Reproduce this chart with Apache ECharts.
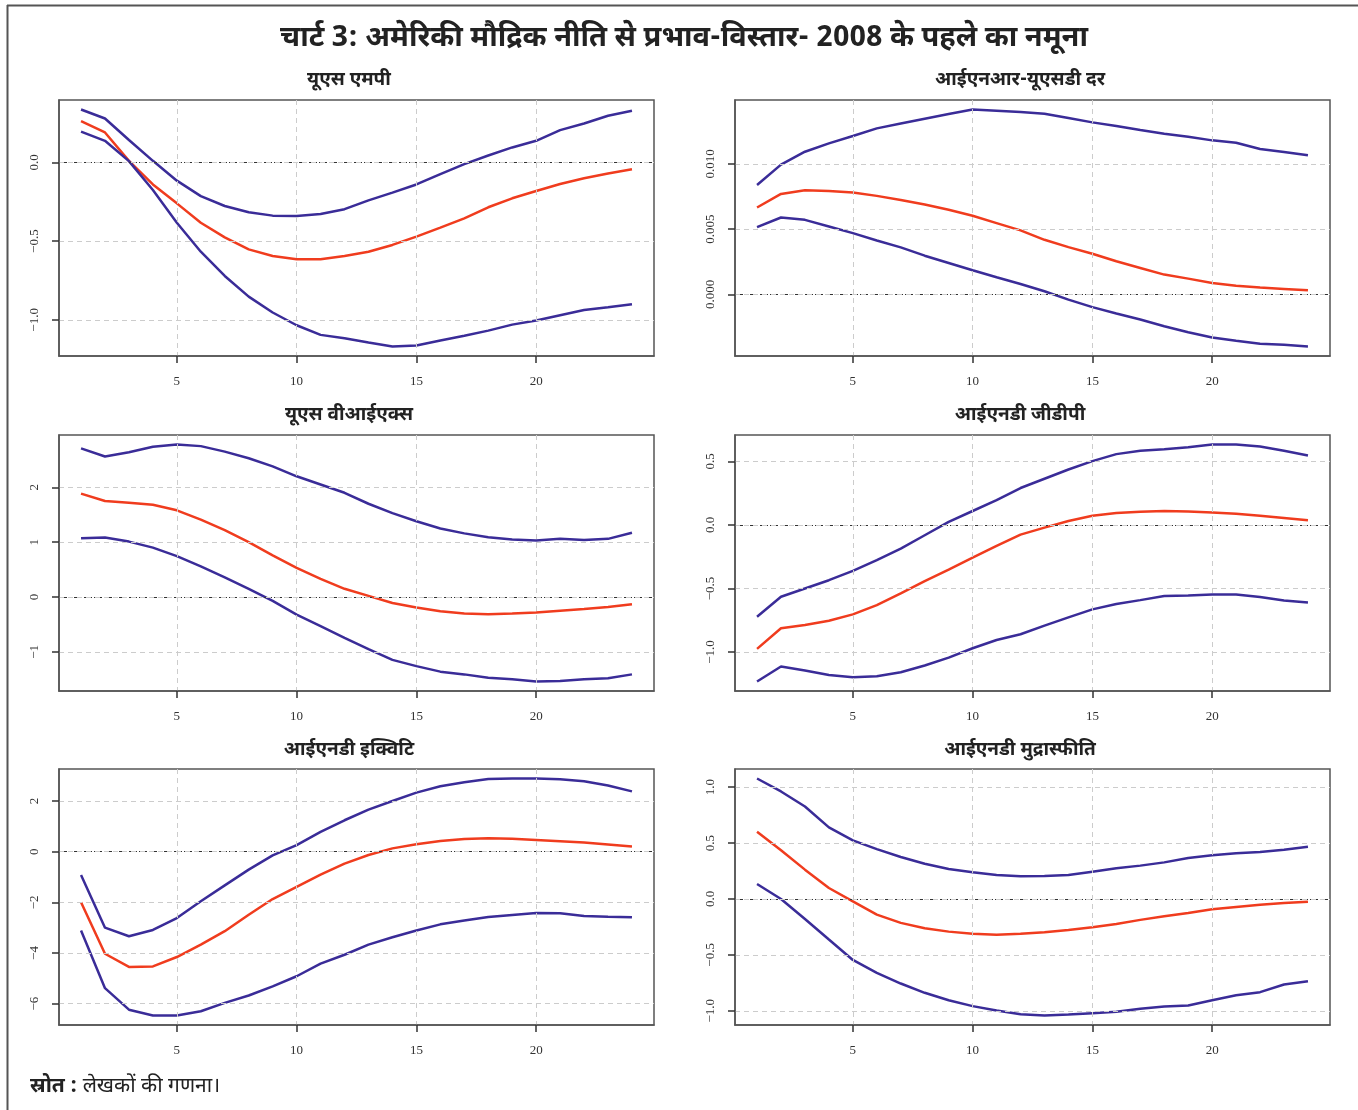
<!DOCTYPE html>
<html>
<head>
<meta charset="utf-8">
<script src="https://cdn.jsdelivr.net/npm/echarts@6/dist/echarts.min.js"></script>
<style>
html,body{margin:0;padding:0;background:#fff;}
#chart{width:1358px;height:1110px;}
</style>
</head>
<body>
<div id="chart"></div>
<script>
// ---------- data ----------
const horizon = [1,2,3,4,5,6,7,8,9,10,11,12,13,14,15,16,17,18,19,20,21,22,23,24];
const xTicks = [5,10,15,20];

const mainTitle = 'चार्ट 3: अमेरिकी मौद्रिक नीति से प्रभाव-विस्तार- 2008 के पहले का नमूना';
const panelTitles = ['यूएस एमपी','आईएनआर-यूएसडी दर','यूएस वीआईएक्स','आईएनडी जीडीपी','आईएनडी इक्विटि','आईएनडी मुद्रास्फीति'];
const sourceLabel = 'स्रोत :';
const sourceText = ' लेखकों की गणना।';

// US MP
const mpUpper = [0.336,0.279,0.142,0.010,-0.116,-0.214,-0.277,-0.317,-0.338,-0.340,-0.328,-0.297,-0.241,-0.192,-0.140,-0.074,-0.011,0.044,0.095,0.137,0.205,0.247,0.296,0.328];
const mpIrf   = [0.262,0.190,0.010,-0.140,-0.260,-0.383,-0.476,-0.552,-0.594,-0.615,-0.615,-0.594,-0.567,-0.524,-0.471,-0.414,-0.355,-0.285,-0.228,-0.182,-0.137,-0.101,-0.070,-0.044];
const mpLower = [0.195,0.137,0.008,-0.175,-0.383,-0.567,-0.721,-0.852,-0.953,-1.034,-1.095,-1.116,-1.144,-1.169,-1.163,-1.131,-1.101,-1.068,-1.030,-1.004,-0.970,-0.937,-0.920,-0.901];
const mpTicks = [-1.0,-0.5,0.0];

// INR-USD
const fxUpper = [0.00839,0.00995,0.01094,0.01158,0.01214,0.01273,0.01311,0.01347,0.01383,0.01418,0.01408,0.01398,0.01385,0.01352,0.01319,0.01291,0.01260,0.01232,0.01209,0.01181,0.01163,0.01115,0.01092,0.01066];
const fxIrf   = [0.00666,0.00770,0.00798,0.00793,0.00781,0.00755,0.00724,0.00689,0.00648,0.00602,0.00546,0.00490,0.00418,0.00362,0.00311,0.00253,0.00202,0.00151,0.00120,0.00087,0.00066,0.00051,0.00041,0.00031];
const fxLower = [0.00515,0.00589,0.00571,0.00520,0.00469,0.00413,0.00360,0.00296,0.00240,0.00184,0.00130,0.00079,0.00023,-0.00041,-0.00099,-0.00148,-0.00194,-0.00245,-0.00291,-0.00332,-0.00357,-0.00380,-0.00388,-0.00401];
const fxTicks = [0.000,0.005,0.010];

// US VIX
const vixUpper = [2.71,2.56,2.64,2.74,2.78,2.75,2.65,2.53,2.38,2.20,2.05,1.90,1.70,1.53,1.38,1.25,1.16,1.09,1.05,1.03,1.06,1.04,1.06,1.17];
const vixIrf   = [1.885,1.75,1.72,1.68,1.58,1.41,1.22,1.00,0.76,0.53,0.33,0.15,0.02,-0.11,-0.19,-0.26,-0.30,-0.315,-0.30,-0.28,-0.25,-0.22,-0.18,-0.13];
const vixLower = [1.07,1.085,1.01,0.90,0.745,0.56,0.36,0.15,-0.07,-0.32,-0.53,-0.745,-0.95,-1.145,-1.26,-1.36,-1.41,-1.47,-1.50,-1.54,-1.53,-1.50,-1.48,-1.41];
const vixTicks = [-1,0,1,2];

// IND GDP
const gdpUpper = [-0.723,-0.565,-0.500,-0.435,-0.361,-0.277,-0.186,-0.081,0.024,0.110,0.196,0.291,0.364,0.437,0.503,0.558,0.584,0.597,0.613,0.634,0.634,0.618,0.584,0.547];
const gdpIrf   = [-0.976,-0.814,-0.788,-0.754,-0.704,-0.631,-0.539,-0.442,-0.351,-0.257,-0.165,-0.076,-0.021,0.031,0.073,0.094,0.105,0.110,0.107,0.099,0.089,0.073,0.055,0.037];
const gdpLower = [-1.233,-1.115,-1.147,-1.181,-1.199,-1.191,-1.160,-1.107,-1.045,-0.971,-0.906,-0.861,-0.793,-0.728,-0.665,-0.623,-0.592,-0.560,-0.555,-0.547,-0.547,-0.568,-0.594,-0.610];
const gdpTicks = [-1.0,-0.5,0.0,0.5];

// IND Equity
const eqUpper = [-0.92,-3.00,-3.34,-3.09,-2.62,-1.96,-1.33,-0.71,-0.145,0.26,0.78,1.24,1.66,2.00,2.33,2.58,2.74,2.87,2.89,2.89,2.86,2.78,2.61,2.38];
const eqIrf   = [-2.00,-4.03,-4.55,-4.53,-4.16,-3.67,-3.14,-2.49,-1.87,-1.39,-0.91,-0.47,-0.13,0.13,0.29,0.42,0.50,0.53,0.51,0.46,0.41,0.36,0.28,0.20];
const eqLower = [-3.11,-5.39,-6.24,-6.47,-6.47,-6.30,-5.97,-5.68,-5.32,-4.92,-4.42,-4.07,-3.67,-3.38,-3.11,-2.87,-2.72,-2.58,-2.50,-2.42,-2.43,-2.54,-2.57,-2.59];
const eqTicks = [-6,-4,-2,0,2];

// IND Inflation
const infUpper = [1.077,0.961,0.827,0.640,0.524,0.446,0.375,0.315,0.268,0.238,0.214,0.202,0.205,0.214,0.244,0.274,0.298,0.327,0.366,0.390,0.408,0.420,0.440,0.467];
const infIrf   = [0.601,0.435,0.262,0.098,-0.021,-0.140,-0.214,-0.262,-0.292,-0.310,-0.321,-0.310,-0.298,-0.277,-0.253,-0.223,-0.187,-0.155,-0.125,-0.092,-0.071,-0.051,-0.036,-0.024];
const infLower = [0.134,0.000,-0.179,-0.363,-0.545,-0.661,-0.756,-0.839,-0.905,-0.958,-0.997,-1.030,-1.042,-1.033,-1.021,-1.009,-0.982,-0.961,-0.952,-0.905,-0.860,-0.833,-0.765,-0.735];
const infTicks = [-1.0,-0.5,0.0,0.5,1.0];

// ---------- build ----------
const panels = [
  {lower: mpLower,  mid: mpIrf,  upper: mpUpper,  ticks: mpTicks,  dec: 1},
  {lower: fxLower,  mid: fxIrf,  upper: fxUpper,  ticks: fxTicks,  dec: 3},
  {lower: vixLower, mid: vixIrf, upper: vixUpper, ticks: vixTicks, dec: 0},
  {lower: gdpLower, mid: gdpIrf, upper: gdpUpper, ticks: gdpTicks, dec: 1},
  {lower: eqLower,  mid: eqIrf,  upper: eqUpper,  ticks: eqTicks,  dec: 0},
  {lower: infLower, mid: infIrf, upper: infUpper, ticks: infTicks, dec: 1}
];

const DEVA = '"Noto Sans Devanagari","Lohit Devanagari","Noto Sans","Mukta","FreeSans",sans-serif';
const SERIF = '"Liberation Serif","DejaVu Serif",serif';
const BLUE = '#3a2c98';
const RED = '#f03c1e';

const colLeft = [59, 735];
const rowTop = [100, 435, 769];
const plotW = 595, plotH = 256;
const titleCx = [349, 1020];
const titleY = [72, 407, 742];

const grids = [], xAxes = [], yAxes = [], series = [], titles = [];

titles.push({
  text: mainTitle, left: 684, top: 26, textAlign: 'center', padding: 0,
  textStyle: {fontFamily: DEVA, fontSize: 29, fontWeight: 'bold', color: '#222'}
});

const xMin = 1 - 0.04 * 23, xMax = 24 + 0.04 * 23;

panels.forEach((p, i) => {
  const c = i % 2, r = Math.floor(i / 2);
  grids.push({left: colLeft[c], top: rowTop[r], width: plotW, height: plotH,
    show: true, borderColor: '#555', borderWidth: 1.5, backgroundColor: 'transparent', containLabel: false});
  titles.push({text: panelTitles[i], left: titleCx[c], top: titleY[r], textAlign: 'center', padding: 0,
    textStyle: {fontFamily: DEVA, fontSize: 19, fontWeight: 'bold', color: '#222'}});
  const all = p.lower.concat(p.mid, p.upper);
  const lo = Math.min(...all), hi = Math.max(...all), rg = hi - lo;
  xAxes.push({
    type: 'value', gridIndex: i, min: xMin, max: xMax, position: 'bottom', z: 10,
    axisLine: {show: true, onZero: false, lineStyle: {color: '#555', width: 1.5}},
    axisTick: {show: true, inside: false, length: 7, lineStyle: {color: '#333', width: 1.5}, customValues: xTicks},
    axisLabel: {show: true, customValues: xTicks, margin: 19, color: '#333', fontFamily: SERIF, fontSize: 13},
    splitLine: {show: true, lineStyle: {color: '#cccccc', type: [5, 4], width: 1}}
  });
  yAxes.push({
    type: 'value', gridIndex: i, min: lo - 0.04 * rg, max: hi + 0.04 * rg, position: 'left', z: 10,
    axisLine: {show: true, onZero: false, lineStyle: {color: '#555', width: 1.5}},
    axisTick: {show: true, inside: false, length: 7, lineStyle: {color: '#333', width: 1.5}, customValues: p.ticks},
    axisLabel: {show: true, customValues: p.ticks, rotate: 90, margin: 18, color: '#333', fontFamily: SERIF, fontSize: 13,
      formatter: v => { const s = Math.abs(v).toFixed(p.dec); return (v < -1e-12 ? '\u2212' : '') + s; }},
    splitLine: {show: true, lineStyle: {color: '#cccccc', type: [5, 4], width: 1}}
  });
  const mk = (arr, color, withZero) => {
    const s = {
      type: 'line', xAxisIndex: i, yAxisIndex: i,
      data: horizon.map((h, k) => [h, arr[k]]),
      showSymbol: false, symbol: 'none', smooth: false,
      lineStyle: {color: color, width: 2.5}, itemStyle: {color: color},
      silent: true, animation: false, z: 3
    };
    if (withZero) {
      s.markLine = {silent: true, symbol: 'none', animation: false,
        label: {show: false},
        lineStyle: {color: '#333', type: [3, 2], width: 1},
        data: [{yAxis: 0}]};
    }
    return s;
  };
  series.push(mk(p.upper, BLUE, true));
  series.push(mk(p.mid, RED, false));
  series.push(mk(p.lower, BLUE, false));
});

const chart = echarts.init(document.getElementById('chart'), null, {renderer: 'canvas'});
chart.setOption({
  backgroundColor: '#ffffff',
  animation: false,
  title: titles,
  grid: grids,
  xAxis: xAxes,
  yAxis: yAxes,
  series: series,
  graphic: [
    {type: 'line', shape: {x1: 7, y1: 5.5, x2: 1358, y2: 5.5}, style: {stroke: '#555', lineWidth: 2}, silent: true},
    {type: 'line', shape: {x1: 7.5, y1: 5, x2: 7.5, y2: 1110}, style: {stroke: '#555', lineWidth: 2}, silent: true},
    {type: 'text', left: 30, top: 1078, silent: true,
      style: {
        text: '{b|' + sourceLabel + '}{n|' + sourceText + '}',
        rich: {
          b: {fontFamily: DEVA, fontSize: 21, fontWeight: 'bold', fill: '#222'},
          n: {fontFamily: DEVA, fontSize: 21, fill: '#222'}
        }
      }}
  ]
});
</script>
</body>
</html>
